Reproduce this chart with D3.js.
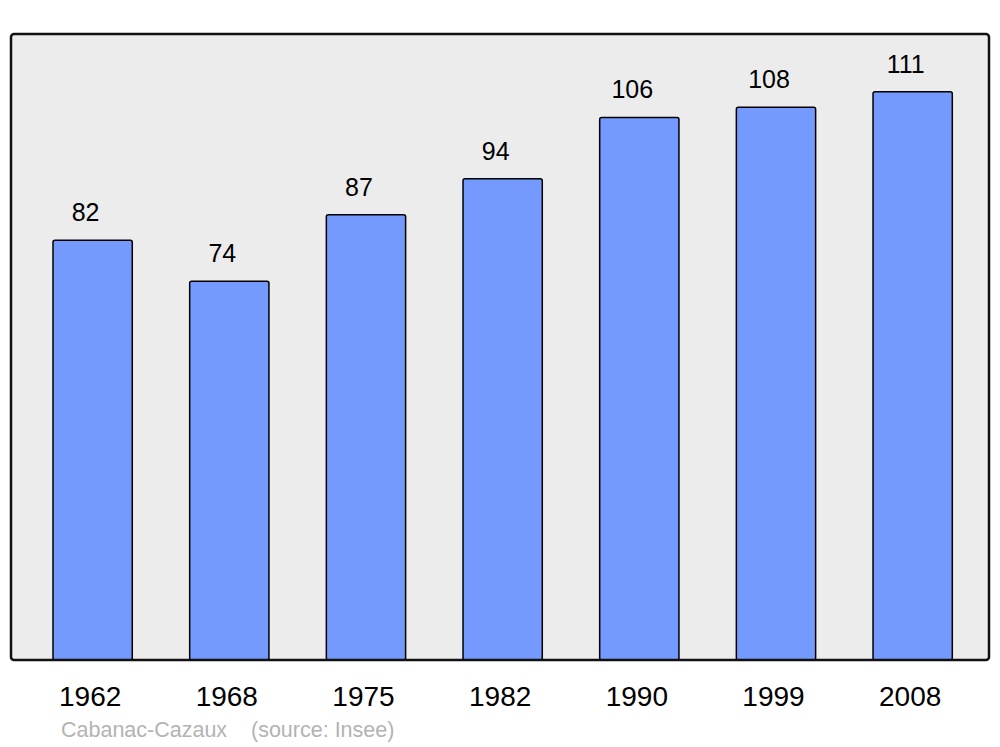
<!DOCTYPE html>
<html><head><meta charset="utf-8">
<script src="https://cdn.jsdelivr.net/npm/d3@7"></script>
<style>body{margin:0;background:#fff}svg{display:block}</style>
</head><body>
<script>
const years = ["1962","1968","1975","1982","1990","1999","2008"];
const population = [82,74,87,94,106,108,111];
const place = "Cabanac-Cazaux";
const source = "(source: Insee)";

const W = 1000, H = 747;
const svg = d3.select("body").append("svg").attr("width", W).attr("height", H);
const font = "Liberation Sans, Arial, sans-serif";

const panel = {x0: 11, x1: 989, y0: 34, y1: 660};
svg.append("rect")
  .attr("x", panel.x0).attr("y", panel.y0)
  .attr("width", panel.x1 - panel.x0).attr("height", panel.y1 - panel.y0)
  .attr("rx", 3).attr("fill", "#ececec");

const x = d3.scaleBand().domain(years).range([24.3, 981]).paddingInner(0.42).paddingOuter(0.21);
const y = d3.scaleLinear().domain([0, 122.3]).range([panel.y1, panel.y0]);

const data = years.map((yr, i) => ({year: yr, v: population[i]}));

svg.selectAll("rect.bar").data(data).enter().append("rect")
  .attr("class", "bar")
  .attr("x", d => x(d.year)).attr("y", d => y(d.v))
  .attr("width", x.bandwidth()).attr("height", d => y(0) - y(d.v))
  .attr("rx", 2)
  .attr("fill", "#7499ff").attr("stroke", "#000").attr("stroke-width", 1.5);

svg.append("rect")
  .attr("x", panel.x0).attr("y", panel.y0)
  .attr("width", panel.x1 - panel.x0).attr("height", panel.y1 - panel.y0)
  .attr("rx", 3).attr("fill", "none").attr("stroke", "#111").attr("stroke-width", 2.5);

svg.selectAll("text.val").data(data).enter().append("text")
  .attr("class", "val")
  .attr("x", d => x(d.year) + x.bandwidth() / 2 - 7)
  .attr("y", d => y(d.v) - 19)
  .attr("text-anchor", "middle")
  .attr("font-family", font)
  .attr("font-size", 25).attr("fill", "#000")
  .text(d => d.v);

svg.selectAll("text.yr").data(data).enter().append("text")
  .attr("class", "yr")
  .attr("x", d => x(d.year) + x.bandwidth() / 2 - 2.5)
  .attr("y", 706)
  .attr("text-anchor", "middle")
  .attr("font-family", font)
  .attr("font-size", 28).attr("fill", "#000")
  .text(d => d.year);

svg.append("text").attr("x", 61).attr("y", 737)
  .attr("font-family", font)
  .attr("font-size", 21.5).attr("fill", "#b3b3b3").text(place);
svg.append("text").attr("x", 251).attr("y", 737)
  .attr("font-family", font)
  .attr("font-size", 21.5).attr("fill", "#b3b3b3").text(source);
</script>
</body></html>
